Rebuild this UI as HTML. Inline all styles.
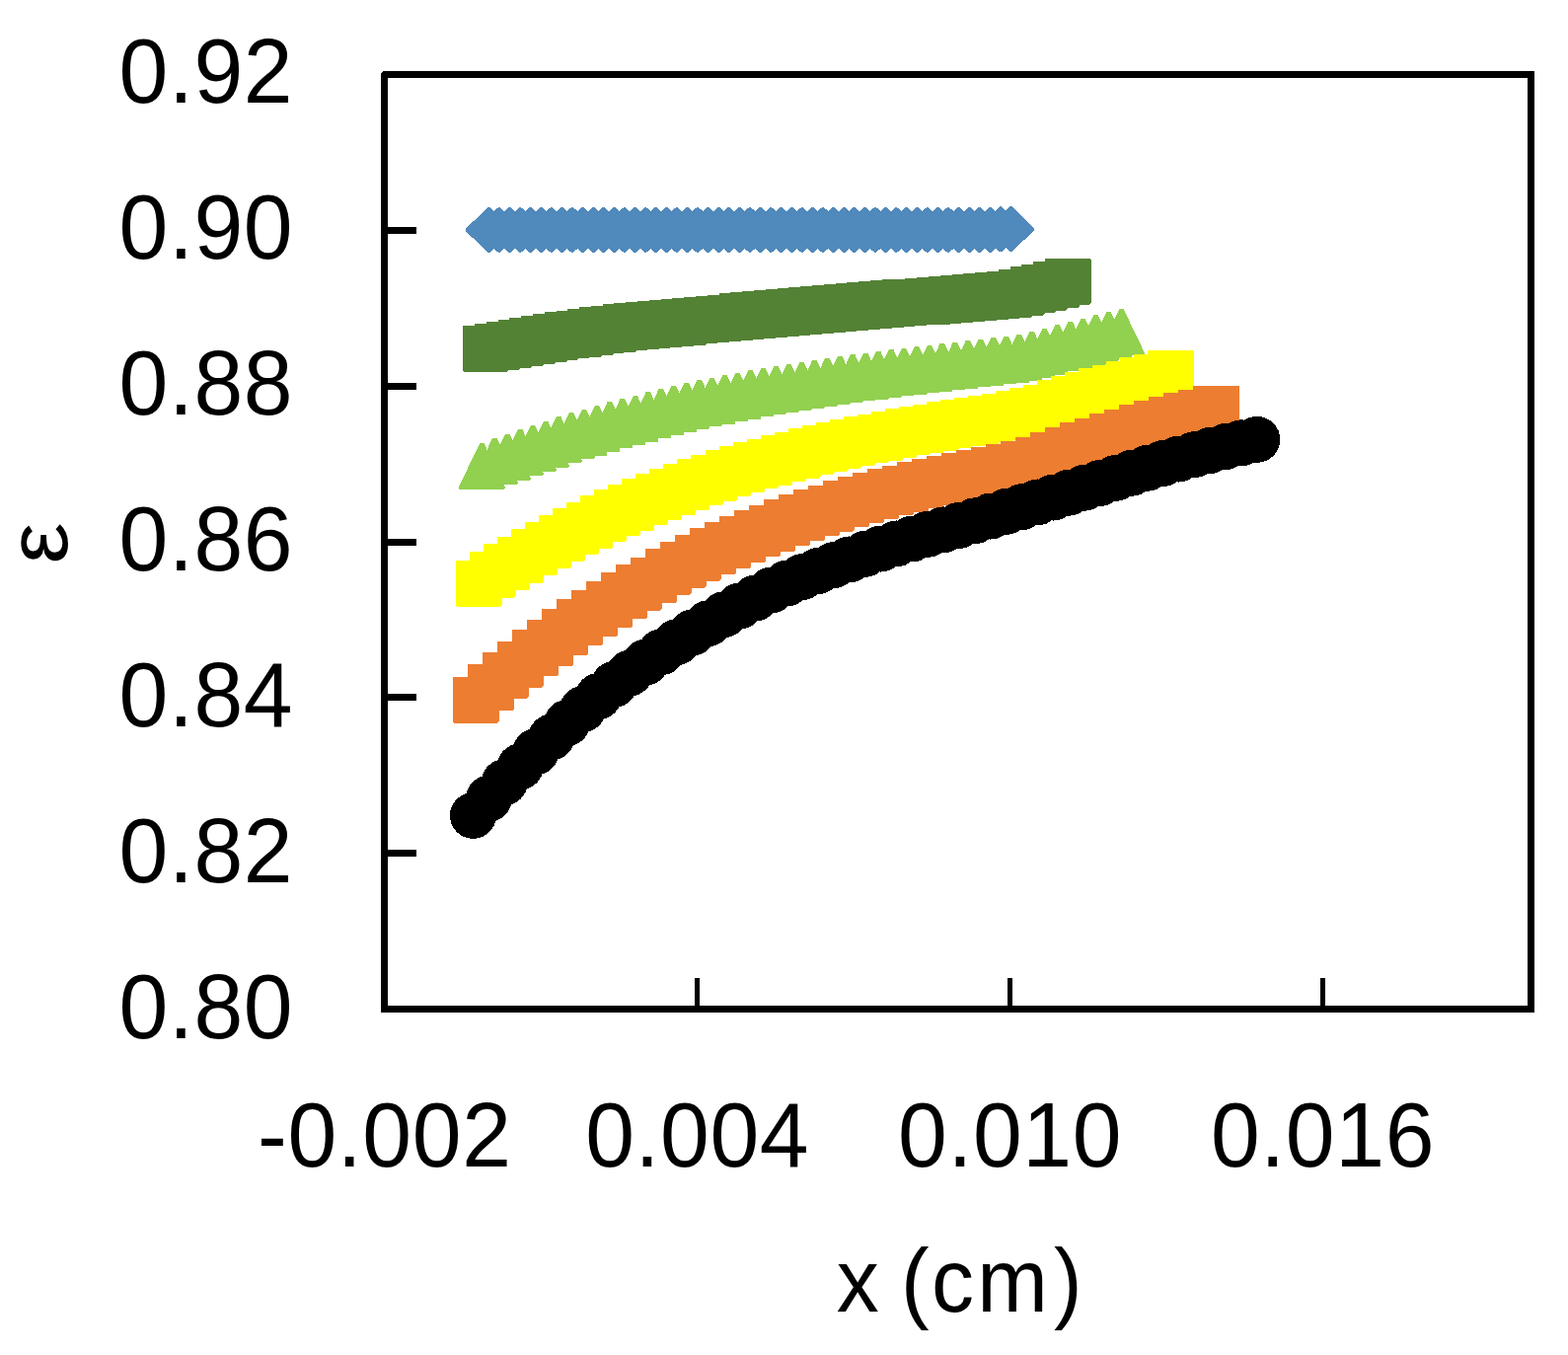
<!DOCTYPE html>
<html lang="en">
<head>
<meta charset="utf-8">
<title>Porosity profile chart</title>
<style>
html,body{margin:0;padding:0;background:#fff;}
body{width:1589px;height:1373px;overflow:hidden;}
svg{display:block;}
.mk path{stroke-linejoin:round;shape-rendering:crispEdges;}
.s1{fill:#5089BB;stroke:#5089BB;stroke-width:5.2;}
.s2{fill:#548235;}
.s3{fill:#92D050;}
.s4{fill:#FFFF00;}
.s5{fill:#ED7D31;}
.s6{fill:#000;stroke:#000;stroke-width:5.2;}
.fr{fill:none;stroke:#000;stroke-width:7;shape-rendering:crispEdges;}
.tk{fill:#000;shape-rendering:crispEdges;}
.t{font-family:"Liberation Sans",sans-serif;font-size:91.8px;fill:#000;}
.d{letter-spacing:0.65px;}
</style>
</head>
<body>
<svg width="1589" height="1373" viewBox="0 0 1589 1373">
<rect x="0" y="0" width="1589" height="1373" fill="#fff"/>
<g class="mk">
<path class="s1" d="M474.5 233L495.4 212.7L516.2 233L495.4 253.3ZM485.1 233L505.9 212.7L526.8 233L505.9 253.3ZM495.7 233L516.5 212.7L537.4 233L516.5 253.3ZM506.3 233L527.1 212.7L548 233L527.1 253.3ZM516.8 233L537.7 212.7L558.5 233L537.7 253.3ZM527.4 233L548.3 212.7L569.1 233L548.3 253.3ZM538 233L558.9 212.7L579.7 233L558.9 253.3ZM548.6 233L569.4 212.7L590.3 233L569.4 253.3ZM559.2 233L580 212.7L600.9 233L580 253.3ZM569.8 233L590.6 212.7L611.5 233L590.6 253.3ZM580.3 233L601.2 212.7L622 233L601.2 253.3ZM590.9 233L611.8 212.7L632.6 233L611.8 253.3ZM601.5 233L622.4 212.7L643.2 233L622.4 253.3ZM612.1 233L632.9 212.7L653.8 233L632.9 253.3ZM622.7 233L643.5 212.7L664.4 233L643.5 253.3ZM633.3 233L654.1 212.7L675 233L654.1 253.3ZM643.8 233L664.7 212.7L685.5 233L664.7 253.3ZM654.4 233L675.3 212.7L696.1 233L675.3 253.3ZM665 233L685.9 212.7L706.7 233L685.9 253.3ZM675.6 233L696.4 212.7L717.3 233L696.4 253.3ZM686.2 233L707 212.7L727.9 233L707 253.3ZM696.8 233L717.6 212.7L738.5 233L717.6 253.3ZM707.3 233L728.2 212.7L749 233L728.2 253.3ZM717.9 233L738.8 212.7L759.6 233L738.8 253.3ZM728.5 233L749.4 212.7L770.2 233L749.4 253.3ZM739.1 233L760 212.7L780.8 233L760 253.3ZM749.7 233L770.5 212.7L791.4 233L770.5 253.3ZM760.3 233L781.1 212.7L802 233L781.1 253.3ZM770.9 233L791.7 212.7L812.6 233L791.7 253.3ZM781.4 233L802.3 212.7L823.1 233L802.3 253.3ZM792 233L812.9 212.7L833.7 233L812.9 253.3ZM802.6 233L823.5 212.7L844.3 233L823.5 253.3ZM813.2 233L834 212.7L854.9 233L834 253.3ZM823.8 233L844.6 212.7L865.5 233L844.6 253.3ZM834.4 233L855.2 212.7L876.1 233L855.2 253.3ZM844.9 233L865.8 212.7L886.6 233L865.8 253.3ZM855.5 233L876.4 212.7L897.2 233L876.4 253.3ZM866.1 233L887 212.7L907.8 233L887 253.3ZM876.7 233L897.5 212.7L918.4 233L897.5 253.3ZM887.3 233L908.1 212.7L929 233L908.1 253.3ZM897.9 233L918.7 212.7L939.6 233L918.7 253.3ZM908.4 233L929.3 212.7L950.1 233L929.3 253.3ZM919 233L939.9 212.7L960.7 233L939.9 253.3ZM929.6 233L950.5 212.7L971.3 233L950.5 253.3ZM940.2 233L961 212.7L981.9 233L961 253.3ZM950.8 233L971.6 212.7L992.5 233L971.6 253.3ZM961.4 233L982.2 212.7L1003.1 233L982.2 253.3ZM971.9 233L992.8 212.7L1013.6 233L992.8 253.3ZM982.5 233L1003.4 212.7L1024.2 233L1003.4 253.3ZM993.1 232.2L1014 211.9L1034.8 232.2L1014 252.5ZM1003.7 232.2L1024.5 211.9L1045.4 232.2L1024.5 252.5Z"/>
<path class="s2" d="M469.1 330L515 330L516 331L516 375L514.3 376.7L470.1 376.7L469.1 375.7ZM480.9 328L526.8 328L527.8 329L527.8 373L526.1 374.7L481.9 374.7L480.9 373.7ZM492.7 326.1L538.6 326.1L539.6 327.1L539.6 371.1L537.9 372.8L493.7 372.8L492.7 371.8ZM504.5 323.9L550.4 323.9L551.4 324.9L551.4 368.9L549.7 370.6L505.5 370.6L504.5 369.6ZM516.3 322.1L562.2 322.1L563.2 323.1L563.2 367.1L561.5 368.8L517.3 368.8L516.3 367.8ZM528.1 320.2L574 320.2L575 321.2L575 365.2L573.3 366.9L529.1 366.9L528.1 365.9ZM539.9 318L585.8 318L586.8 319L586.8 363L585.1 364.7L540.9 364.7L539.9 363.7ZM551.7 316L597.6 316L598.6 317L598.6 361L596.9 362.7L552.7 362.7L551.7 361.7ZM563.5 315.1L609.4 315.1L610.4 316.1L610.4 360.1L608.7 361.8L564.5 361.8L563.5 360.8ZM575.3 313L621.2 313L622.2 314L622.2 358L620.5 359.7L576.3 359.7L575.3 358.7ZM587.1 311L633 311L634 312L634 356L632.3 357.7L588.1 357.7L587.1 356.7ZM598.9 310.1L644.8 310.1L645.8 311.1L645.8 355.1L644.1 356.8L599.9 356.8L598.9 355.8ZM610.7 307.9L656.6 307.9L657.6 308.9L657.6 352.9L655.9 354.6L611.7 354.6L610.7 353.6ZM622.4 306.9L668.3 306.9L669.3 307.9L669.3 351.9L667.6 353.6L623.4 353.6L622.4 352.6ZM634.2 305.9L680.1 305.9L681.1 306.9L681.1 350.9L679.4 352.6L635.2 352.6L634.2 351.6ZM646 304.9L691.9 304.9L692.9 305.9L692.9 349.9L691.2 351.6L647 351.6L646 350.6ZM657.8 303.8L703.7 303.8L704.7 304.8L704.7 348.8L703 350.5L658.8 350.5L657.8 349.5ZM669.6 302.8L715.5 302.8L716.5 303.8L716.5 347.8L714.8 349.5L670.6 349.5L669.6 348.5ZM681.4 301.7L727.3 301.7L728.3 302.7L728.3 346.7L726.6 348.4L682.4 348.4L681.4 347.4ZM693.2 300.7L739.1 300.7L740.1 301.7L740.1 345.7L738.4 347.4L694.2 347.4L693.2 346.4ZM705 299.6L750.9 299.6L751.9 300.6L751.9 344.6L750.2 346.3L706 346.3L705 345.3ZM716.8 298.5L762.7 298.5L763.7 299.5L763.7 343.5L762 345.2L717.8 345.2L716.8 344.2ZM728.6 297.4L774.5 297.4L775.5 298.4L775.5 342.4L773.8 344.1L729.6 344.1L728.6 343.1ZM740.4 296.3L786.3 296.3L787.3 297.3L787.3 341.3L785.6 343L741.4 343L740.4 342ZM752.2 295.3L798.1 295.3L799.1 296.3L799.1 340.3L797.4 342L753.2 342L752.2 341ZM764 294.2L809.9 294.2L810.9 295.2L810.9 339.2L809.2 340.9L765 340.9L764 339.9ZM775.8 293.1L821.7 293.1L822.7 294.1L822.7 338.1L821 339.8L776.8 339.8L775.8 338.8ZM787.6 292.1L833.5 292.1L834.5 293.1L834.5 337.1L832.8 338.8L788.6 338.8L787.6 337.8ZM799.4 291L845.3 291L846.3 292L846.3 336L844.6 337.7L800.4 337.7L799.4 336.7ZM811.2 290L857.1 290L858.1 291L858.1 335L856.4 336.7L812.2 336.7L811.2 335.7ZM823 289L868.9 289L869.9 290L869.9 334L868.2 335.7L824 335.7L823 334.7ZM834.8 288L880.7 288L881.7 289L881.7 333L880 334.7L835.8 334.7L834.8 333.7ZM846.6 287.1L892.5 287.1L893.5 288.1L893.5 332.1L891.8 333.8L847.6 333.8L846.6 332.8ZM858.4 286.1L904.3 286.1L905.3 287.1L905.3 331.1L903.6 332.8L859.4 332.8L858.4 331.8ZM870.2 285L916.1 285L917.1 286L917.1 330L915.4 331.7L871.2 331.7L870.2 330.7ZM882 283.9L927.9 283.9L928.9 284.9L928.9 328.9L927.2 330.6L883 330.6L882 329.6ZM893.8 283.1L939.7 283.1L940.7 284.1L940.7 328.1L939 329.8L894.8 329.8L893.8 328.8ZM905.6 282.6L951.5 282.6L952.5 283.6L952.5 327.6L950.8 329.3L906.6 329.3L905.6 328.3ZM917.3 282.1L963.2 282.1L964.2 283.1L964.2 327.1L962.5 328.8L918.3 328.8L917.3 327.8ZM929.1 281L975 281L976 282L976 326L974.3 327.7L930.1 327.7L929.1 326.7ZM940.9 279.9L986.8 279.9L987.8 280.9L987.8 324.9L986.1 326.6L941.9 326.6L940.9 325.6ZM952.7 278.9L998.6 278.9L999.6 279.9L999.6 323.9L997.9 325.6L953.7 325.6L952.7 324.6ZM964.5 278L1010.4 278L1011.4 279L1011.4 323L1009.7 324.7L965.5 324.7L964.5 323.7ZM976.3 277L1022.2 277L1023.2 278L1023.2 322L1021.5 323.7L977.3 323.7L976.3 322.7ZM988.1 276L1034 276L1035 277L1035 321L1033.3 322.7L989.1 322.7L988.1 321.7ZM999.9 275L1045.8 275L1046.8 276L1046.8 320L1045.1 321.7L1000.9 321.7L999.9 320.7ZM1011.7 273L1057.6 273L1058.6 274L1058.6 318L1056.9 319.7L1012.7 319.7L1011.7 318.7ZM1023.5 270.1L1069.4 270.1L1070.4 271.1L1070.4 315.1L1068.7 316.8L1024.5 316.8L1023.5 315.8ZM1035.3 267.8L1081.2 267.8L1082.2 268.8L1082.2 312.8L1080.5 314.5L1036.3 314.5L1035.3 313.5ZM1047.1 265.2L1093 265.2L1094 266.2L1094 310.2L1092.3 311.9L1048.1 311.9L1047.1 310.9ZM1058.9 262L1104.8 262L1105.8 263L1105.8 307L1104.1 308.7L1059.9 308.7L1058.9 307.7Z"/>
<path class="s3" d="M486.1 449.3L490.5 449.3L511.8 493.6L511.8 495.2L510.8 496.2L465.9 496.2L464.9 495.2L464.9 493.6ZM499.1 444L503.5 444L524.7 488.3L524.7 489.9L523.7 490.9L478.8 490.9L477.8 489.9L477.8 488.3ZM512 439.9L516.4 439.9L537.7 484.2L537.7 485.8L536.7 486.8L491.8 486.8L490.8 485.8L490.8 484.2ZM525 435.1L529.4 435.1L550.6 479.4L550.6 481L549.6 482L504.7 482L503.7 481L503.7 479.4ZM537.9 431.1L542.3 431.1L563.6 475.4L563.6 477L562.6 478L517.7 478L516.7 477L516.7 475.4ZM550.9 427L555.3 427L576.6 471.3L576.6 472.9L575.6 473.9L530.7 473.9L529.7 472.9L529.7 471.3ZM563.9 422L568.3 422L589.5 466.3L589.5 467.9L588.5 468.9L543.6 468.9L542.6 467.9L542.6 466.3ZM576.8 418.1L581.2 418.1L602.5 462.4L602.5 464L601.5 465L556.6 465L555.6 464L555.6 462.4ZM589.8 414.9L594.2 414.9L615.4 459.2L615.4 460.8L614.4 461.8L569.5 461.8L568.5 460.8L568.5 459.2ZM602.8 410.9L607.2 410.9L628.4 455.2L628.4 456.8L627.4 457.8L582.5 457.8L581.5 456.8L581.5 455.2ZM615.7 407.1L620.1 407.1L641.4 451.4L641.4 453L640.4 454L595.5 454L594.5 453L594.5 451.4ZM628.7 404L633.1 404L654.3 448.3L654.3 449.9L653.3 450.9L608.4 450.9L607.4 449.9L607.4 448.3ZM641.6 401.4L646 401.4L667.3 445.7L667.3 447.3L666.3 448.3L621.4 448.3L620.4 447.3L620.4 445.7ZM654.6 397.3L659 397.3L680.3 441.6L680.3 443.2L679.3 444.2L634.4 444.2L633.4 443.2L633.4 441.6ZM667.6 394.2L672 394.2L693.2 438.5L693.2 440.1L692.2 441.1L647.3 441.1L646.3 440.1L646.3 438.5ZM680.5 391L684.9 391L706.2 435.3L706.2 436.9L705.2 437.9L660.3 437.9L659.3 436.9L659.3 435.3ZM693.5 388L697.9 388L719.1 432.3L719.1 433.9L718.1 434.9L673.2 434.9L672.2 433.9L672.2 432.3ZM706.5 385L710.9 385L732.1 429.3L732.1 430.9L731.1 431.9L686.2 431.9L685.2 430.9L685.2 429.3ZM719.4 383.1L723.8 383.1L745.1 427.4L745.1 429L744.1 430L699.2 430L698.2 429L698.2 427.4ZM732.4 380.1L736.8 380.1L758 424.4L758 426L757 427L712.1 427L711.1 426L711.1 424.4ZM745.3 378.1L749.7 378.1L771 422.4L771 424L770 425L725.1 425L724.1 424L724.1 422.4ZM758.3 375.3L762.7 375.3L784 419.6L784 421.2L783 422.2L738.1 422.2L737.1 421.2L737.1 419.6ZM771.3 373.1L775.7 373.1L796.9 417.4L796.9 419L795.9 420L751 420L750 419L750 417.4ZM784.2 371.1L788.6 371.1L809.9 415.4L809.9 417L808.9 418L764 418L763 417L763 415.4ZM797.2 369.2L801.6 369.2L822.8 413.5L822.8 415.1L821.8 416.1L776.9 416.1L775.9 415.1L775.9 413.5ZM810.2 367.1L814.6 367.1L835.8 411.4L835.8 413L834.8 414L789.9 414L788.9 413L788.9 411.4ZM823.1 365.2L827.5 365.2L848.8 409.5L848.8 411.1L847.8 412.1L802.9 412.1L801.9 411.1L801.9 409.5ZM836.1 363.1L840.5 363.1L861.7 407.4L861.7 409L860.7 410L815.8 410L814.8 409L814.8 407.4ZM849 361.1L853.4 361.1L874.7 405.4L874.7 407L873.7 408L828.8 408L827.8 407L827.8 405.4ZM862 359.2L866.4 359.2L887.6 403.5L887.6 405.1L886.6 406.1L841.7 406.1L840.7 405.1L840.7 403.5ZM875 358L879.4 358L900.6 402.3L900.6 403.9L899.6 404.9L854.7 404.9L853.7 403.9L853.7 402.3ZM887.9 356L892.3 356L913.6 400.3L913.6 401.9L912.6 402.9L867.7 402.9L866.7 401.9L866.7 400.3ZM900.9 354L905.3 354L926.5 398.3L926.5 399.9L925.5 400.9L880.6 400.9L879.6 399.9L879.6 398.3ZM913.8 353L918.2 353L939.5 397.3L939.5 398.9L938.5 399.9L893.6 399.9L892.6 398.9L892.6 397.3ZM926.8 351L931.2 351L952.5 395.3L952.5 396.9L951.5 397.9L906.6 397.9L905.6 396.9L905.6 395.3ZM939.8 350.1L944.2 350.1L965.4 394.4L965.4 396L964.4 397L919.5 397L918.5 396L918.5 394.4ZM952.7 348L957.1 348L978.4 392.3L978.4 393.9L977.4 394.9L932.5 394.9L931.5 393.9L931.5 392.3ZM965.7 347L970.1 347L991.3 391.3L991.3 392.9L990.3 393.9L945.4 393.9L944.4 392.9L944.4 391.3ZM978.7 345.1L983.1 345.1L1004.3 389.4L1004.3 391L1003.3 392L958.4 392L957.4 391L957.4 389.4ZM991.6 343.9L996 343.9L1017.3 388.2L1017.3 389.8L1016.3 390.8L971.4 390.8L970.4 389.8L970.4 388.2ZM1004.6 342L1009 342L1030.2 386.3L1030.2 387.9L1029.2 388.9L984.3 388.9L983.3 387.9L983.3 386.3ZM1017.5 341L1021.9 341L1043.2 385.3L1043.2 386.9L1042.2 387.9L997.3 387.9L996.3 386.9L996.3 385.3ZM1030.5 339L1034.9 339L1056.2 383.3L1056.2 384.9L1055.2 385.9L1010.3 385.9L1009.3 384.9L1009.3 383.3ZM1043.5 336.1L1047.9 336.1L1069.1 380.4L1069.1 382L1068.1 383L1023.2 383L1022.2 382L1022.2 380.4ZM1056.4 333.1L1060.8 333.1L1082.1 377.4L1082.1 379L1081.1 380L1036.2 380L1035.2 379L1035.2 377.4ZM1069.4 329.1L1073.8 329.1L1095 373.4L1095 375L1094 376L1049.1 376L1048.1 375L1048.1 373.4ZM1082.4 325.9L1086.8 325.9L1108 370.2L1108 371.8L1107 372.8L1062.1 372.8L1061.1 371.8L1061.1 370.2ZM1095.3 323L1099.7 323L1121 367.3L1121 368.9L1120 369.9L1075.1 369.9L1074.1 368.9L1074.1 367.3ZM1108.3 319L1112.7 319L1133.9 363.3L1133.9 364.9L1132.9 365.9L1088 365.9L1087 364.9L1087 363.3ZM1121.2 316.1L1125.6 316.1L1146.9 360.4L1146.9 362L1145.9 363L1101 363L1100 362L1100 360.4ZM1134.2 313.2L1138.6 313.2L1159.9 357.5L1159.9 359.1L1158.9 360.1L1114 360.1L1113 359.1L1113 357.5Z"/>
<path class="s4" d="M462.1 568.1L507.9 568.1L508.9 569.1L508.9 613.1L507.2 614.8L463.1 614.8L462.1 613.8ZM476.1 559L522 559L523 560L523 604L521.3 605.7L477.1 605.7L476.1 604.7ZM490.1 551.1L536 551.1L537 552.1L537 596.1L535.3 597.8L491.1 597.8L490.1 596.8ZM504.1 544.1L550 544.1L551 545.1L551 589.1L549.3 590.8L505.1 590.8L504.1 589.8ZM518.1 536.1L564 536.1L565 537.1L565 581.1L563.3 582.8L519.1 582.8L518.1 581.8ZM532.2 529.1L578.1 529.1L579.1 530.1L579.1 574.1L577.4 575.8L533.2 575.8L532.2 574.8ZM546.2 522.1L592.1 522.1L593.1 523.1L593.1 567.1L591.4 568.8L547.2 568.8L546.2 567.8ZM560.2 515.1L606.1 515.1L607.1 516.1L607.1 560.1L605.4 561.8L561.2 561.8L560.2 560.8ZM574.2 509.1L620.1 509.1L621.1 510.1L621.1 554.1L619.4 555.8L575.2 555.8L574.2 554.8ZM588.3 502.2L634.2 502.2L635.2 503.2L635.2 547.2L633.5 548.9L589.3 548.9L588.3 547.9ZM602.3 496.1L648.2 496.1L649.2 497.1L649.2 541.1L647.5 542.8L603.3 542.8L602.3 541.8ZM616.3 491L662.2 491L663.2 492L663.2 536L661.5 537.7L617.3 537.7L616.3 536.7ZM630.3 485L676.2 485L677.2 486L677.2 530L675.5 531.7L631.3 531.7L630.3 530.7ZM644.3 480.1L690.2 480.1L691.2 481.1L691.2 525.1L689.5 526.8L645.3 526.8L644.3 525.8ZM658.4 475.1L704.3 475.1L705.3 476.1L705.3 520.1L703.6 521.8L659.4 521.8L658.4 520.8ZM672.4 470.2L718.3 470.2L719.3 471.2L719.3 515.2L717.6 516.9L673.4 516.9L672.4 515.9ZM686.4 465.1L732.3 465.1L733.3 466.1L733.3 510.1L731.6 511.8L687.4 511.8L686.4 510.8ZM700.4 461.2L746.3 461.2L747.3 462.2L747.3 506.2L745.6 507.9L701.4 507.9L700.4 506.9ZM714.5 456.1L760.4 456.1L761.4 457.1L761.4 501.1L759.7 502.8L715.5 502.8L714.5 501.8ZM728.5 452.2L774.4 452.2L775.4 453.2L775.4 497.2L773.7 498.9L729.5 498.9L728.5 497.9ZM742.5 448.1L788.4 448.1L789.4 449.1L789.4 493.1L787.7 494.8L743.5 494.8L742.5 493.8ZM756.5 445.1L802.4 445.1L803.4 446.1L803.4 490.1L801.7 491.8L757.5 491.8L756.5 490.8ZM770.5 441.2L816.4 441.2L817.4 442.2L817.4 486.2L815.7 487.9L771.5 487.9L770.5 486.9ZM784.6 438.3L830.5 438.3L831.5 439.3L831.5 483.3L829.8 485L785.6 485L784.6 484ZM798.6 434.3L844.5 434.3L845.5 435.3L845.5 479.3L843.8 481L799.6 481L798.6 480ZM812.6 431.1L858.5 431.1L859.5 432.1L859.5 476.1L857.8 477.8L813.6 477.8L812.6 476.8ZM826.6 428.2L872.5 428.2L873.5 429.2L873.5 473.2L871.8 474.9L827.6 474.9L826.6 473.9ZM840.7 425.1L886.6 425.1L887.6 426.1L887.6 470.1L885.9 471.8L841.7 471.8L840.7 470.8ZM854.7 422.2L900.6 422.2L901.6 423.2L901.6 467.2L899.9 468.9L855.7 468.9L854.7 467.9ZM868.7 420L914.6 420L915.6 421L915.6 465L913.9 466.7L869.7 466.7L868.7 465.7ZM882.7 416.9L928.6 416.9L929.6 417.9L929.6 461.9L927.9 463.6L883.7 463.6L882.7 462.6ZM896.7 414L942.6 414L943.6 415L943.6 459L941.9 460.7L897.7 460.7L896.7 459.7ZM910.8 411.9L956.7 411.9L957.7 412.9L957.7 456.9L956 458.6L911.8 458.6L910.8 457.6ZM924.8 410L970.7 410L971.7 411L971.7 455L970 456.7L925.8 456.7L924.8 455.7ZM938.8 407.1L984.7 407.1L985.7 408.1L985.7 452.1L984 453.8L939.8 453.8L938.8 452.8ZM952.8 404.9L998.7 404.9L999.7 405.9L999.7 449.9L998 451.6L953.8 451.6L952.8 450.6ZM966.9 403L1012.8 403L1013.8 404L1013.8 448L1012.1 449.7L967.9 449.7L966.9 448.7ZM980.9 401L1026.8 401L1027.8 402L1027.8 446L1026.1 447.7L981.9 447.7L980.9 446.7ZM994.9 399L1040.8 399L1041.8 400L1041.8 444L1040.1 445.7L995.9 445.7L994.9 444.7ZM1008.9 396.1L1054.8 396.1L1055.8 397.1L1055.8 441.1L1054.1 442.8L1009.9 442.8L1008.9 441.8ZM1022.9 393L1068.8 393L1069.8 394L1069.8 438L1068.1 439.7L1023.9 439.7L1022.9 438.7ZM1037 390.1L1082.9 390.1L1083.9 391.1L1083.9 435.1L1082.2 436.8L1038 436.8L1037 435.8ZM1051 385L1096.9 385L1097.9 386L1097.9 430L1096.2 431.7L1052 431.7L1051 430.7ZM1065 381L1110.9 381L1111.9 382L1111.9 426L1110.2 427.7L1066 427.7L1065 426.7ZM1079 377L1124.9 377L1125.9 378L1125.9 422L1124.2 423.7L1080 423.7L1079 422.7ZM1093.1 373L1139 373L1140 374L1140 418L1138.3 419.7L1094.1 419.7L1093.1 418.7ZM1107.1 370L1153 370L1154 371L1154 415L1152.3 416.7L1108.1 416.7L1107.1 415.7ZM1121.1 366.1L1167 366.1L1168 367.1L1168 411.1L1166.3 412.8L1122.1 412.8L1121.1 411.8ZM1135.1 362.1L1181 362.1L1182 363.1L1182 407.1L1180.3 408.8L1136.1 408.8L1135.1 407.8ZM1149.1 359.2L1195 359.2L1196 360.2L1196 404.2L1194.3 405.9L1150.1 405.9L1149.1 404.9ZM1163.2 355.1L1209.1 355.1L1210.1 356.1L1210.1 400.1L1208.4 401.8L1164.2 401.8L1163.2 400.8Z"/>
<path class="s5" d="M459 686L504.9 686L505.9 687L505.9 731L504.2 732.7L460 732.7L459 731.7ZM474 673.2L519.9 673.2L520.9 674.2L520.9 718.2L519.2 719.9L475 719.9L474 718.9ZM489 661.1L534.9 661.1L535.9 662.1L535.9 706.1L534.2 707.8L490 707.8L489 706.8ZM504 650.1L549.9 650.1L550.9 651.1L550.9 695.1L549.2 696.8L505 696.8L504 695.8ZM519 638.3L564.9 638.3L565.9 639.3L565.9 683.3L564.2 685L520 685L519 684ZM534 628.3L579.9 628.3L580.9 629.3L580.9 673.3L579.2 675L535 675L534 674ZM549 617.2L594.9 617.2L595.9 618.2L595.9 662.2L594.2 663.9L550 663.9L549 662.9ZM564 607.3L609.9 607.3L610.9 608.3L610.9 652.3L609.2 654L565 654L564 653ZM579 598.2L624.9 598.2L625.9 599.2L625.9 643.2L624.2 644.9L580 644.9L579 643.9ZM594 589.2L639.9 589.2L640.9 590.2L640.9 634.2L639.2 635.9L595 635.9L594 634.9ZM609 580.2L654.9 580.2L655.9 581.2L655.9 625.2L654.2 626.9L610 626.9L609 625.9ZM624 572.1L669.9 572.1L670.9 573.1L670.9 617.1L669.2 618.8L625 618.8L624 617.8ZM639 564.5L684.9 564.5L685.9 565.5L685.9 609.5L684.2 611.2L640 611.2L639 610.2ZM654 556L699.9 556L700.9 557L700.9 601L699.2 602.7L655 602.7L654 601.7ZM669 549.1L714.9 549.1L715.9 550.1L715.9 594.1L714.2 595.8L670 595.8L669 594.8ZM684.1 542L730 542L731 543L731 587L729.3 588.7L685.1 588.7L684.1 587.7ZM699.1 535.1L745 535.1L746 536.1L746 580.1L744.3 581.8L700.1 581.8L699.1 580.8ZM714.1 529.1L760 529.1L761 530.1L761 574.1L759.3 575.8L715.1 575.8L714.1 574.8ZM729.1 523.1L775 523.1L776 524.1L776 568.1L774.3 569.8L730.1 569.8L729.1 568.8ZM744.1 517.1L790 517.1L791 518.1L791 562.1L789.3 563.8L745.1 563.8L744.1 562.8ZM759.1 512.1L805 512.1L806 513.1L806 557.1L804.3 558.8L760.1 558.8L759.1 557.8ZM774.1 506.1L820 506.1L821 507.1L821 551.1L819.3 552.8L775.1 552.8L774.1 551.8ZM789.1 501.1L835 501.1L836 502.1L836 546.1L834.3 547.8L790.1 547.8L789.1 546.8ZM804.1 496.2L850 496.2L851 497.2L851 541.2L849.3 542.9L805.1 542.9L804.1 541.9ZM819.1 492L865 492L866 493L866 537L864.3 538.7L820.1 538.7L819.1 537.7ZM834.1 487.2L880 487.2L881 488.2L881 532.2L879.3 533.9L835.1 533.9L834.1 532.9ZM849.1 483.2L895 483.2L896 484.2L896 528.2L894.3 529.9L850.1 529.9L849.1 528.9ZM864.1 479.1L910 479.1L911 480.1L911 524.1L909.3 525.8L865.1 525.8L864.1 524.8ZM879.1 475.2L925 475.2L926 476.2L926 520.2L924.3 521.9L880.1 521.9L879.1 520.9ZM894.1 472.1L940 472.1L941 473.1L941 517.1L939.3 518.8L895.1 518.8L894.1 517.8ZM909.1 468.2L955 468.2L956 469.2L956 513.2L954.3 514.9L910.1 514.9L909.1 513.9ZM924.1 465L970 465L971 466L971 510L969.3 511.7L925.1 511.7L924.1 510.7ZM939.1 462L985 462L986 463L986 507L984.3 508.7L940.1 508.7L939.1 507.7ZM954.1 459.1L1000 459.1L1001 460.1L1001 504.1L999.3 505.8L955.1 505.8L954.1 504.8ZM969.1 456.1L1015 456.1L1016 457.1L1016 501.1L1014.3 502.8L970.1 502.8L969.1 501.8ZM984.1 453.1L1030 453.1L1031 454.1L1031 498.1L1029.3 499.8L985.1 499.8L984.1 498.8ZM999.1 450.2L1045 450.2L1046 451.2L1046 495.2L1044.3 496.9L1000.1 496.9L999.1 495.9ZM1014.1 447.2L1060 447.2L1061 448.2L1061 492.2L1059.3 493.9L1015.1 493.9L1014.1 492.9ZM1029.1 443L1075 443L1076 444L1076 488L1074.3 489.7L1030.1 489.7L1029.1 488.7ZM1044.1 438.2L1090 438.2L1091 439.2L1091 483.2L1089.3 484.9L1045.1 484.9L1044.1 483.9ZM1059.1 433.2L1105 433.2L1106 434.2L1106 478.2L1104.3 479.9L1060.1 479.9L1059.1 478.9ZM1074.1 428.3L1120 428.3L1121 429.3L1121 473.3L1119.3 475L1075.1 475L1074.1 474ZM1089.1 424L1135 424L1136 425L1136 469L1134.3 470.7L1090.1 470.7L1089.1 469.7ZM1104.1 419.1L1150 419.1L1151 420.1L1151 464.1L1149.3 465.8L1105.1 465.8L1104.1 464.8ZM1119.1 415.1L1165 415.1L1166 416.1L1166 460.1L1164.3 461.8L1120.1 461.8L1119.1 460.8ZM1134.2 410.1L1180.1 410.1L1181.1 411.1L1181.1 455.1L1179.4 456.8L1135.2 456.8L1134.2 455.8ZM1149.2 406.1L1195.1 406.1L1196.1 407.1L1196.1 451.1L1194.4 452.8L1150.2 452.8L1149.2 451.8ZM1164.2 402.2L1210.1 402.2L1211.1 403.2L1211.1 447.2L1209.4 448.9L1165.2 448.9L1164.2 447.9ZM1179.2 398.2L1225.1 398.2L1226.1 399.2L1226.1 443.2L1224.4 444.9L1180.2 444.9L1179.2 443.9ZM1194.2 395.1L1240.1 395.1L1241.1 396.1L1241.1 440.1L1239.4 441.8L1195.2 441.8L1194.2 440.8ZM1209.2 391.1L1255.1 391.1L1256.1 392.1L1256.1 436.1L1254.4 437.8L1210.2 437.8L1209.2 436.8Z"/>
<path class="s6" d="M458.6 826.4a20.8 20.8 0 1 0 41.7 0a20.8 20.8 0 1 0 -41.7 0ZM474.5 809.2a20.8 20.8 0 1 0 41.7 0a20.8 20.8 0 1 0 -41.7 0ZM490.4 792.7a20.8 20.8 0 1 0 41.7 0a20.8 20.8 0 1 0 -41.7 0ZM506.3 776.9a20.8 20.8 0 1 0 41.7 0a20.8 20.8 0 1 0 -41.7 0ZM522.1 761.7a20.8 20.8 0 1 0 41.7 0a20.8 20.8 0 1 0 -41.7 0ZM538 747a20.8 20.8 0 1 0 41.7 0a20.8 20.8 0 1 0 -41.7 0ZM553.9 732.5a20.8 20.8 0 1 0 41.7 0a20.8 20.8 0 1 0 -41.7 0ZM569.8 718.6a20.8 20.8 0 1 0 41.7 0a20.8 20.8 0 1 0 -41.7 0ZM585.7 705.5a20.8 20.8 0 1 0 41.7 0a20.8 20.8 0 1 0 -41.7 0ZM601.6 693.4a20.8 20.8 0 1 0 41.7 0a20.8 20.8 0 1 0 -41.7 0ZM617.4 682a20.8 20.8 0 1 0 41.7 0a20.8 20.8 0 1 0 -41.7 0ZM633.3 671.2a20.8 20.8 0 1 0 41.7 0a20.8 20.8 0 1 0 -41.7 0ZM649.2 660.7a20.8 20.8 0 1 0 41.7 0a20.8 20.8 0 1 0 -41.7 0ZM665.1 650.6a20.8 20.8 0 1 0 41.7 0a20.8 20.8 0 1 0 -41.7 0ZM681 640.9a20.8 20.8 0 1 0 41.7 0a20.8 20.8 0 1 0 -41.7 0ZM696.9 631.7a20.8 20.8 0 1 0 41.7 0a20.8 20.8 0 1 0 -41.7 0ZM712.8 622.7a20.8 20.8 0 1 0 41.7 0a20.8 20.8 0 1 0 -41.7 0ZM728.6 614.1a20.8 20.8 0 1 0 41.7 0a20.8 20.8 0 1 0 -41.7 0ZM744.5 606a20.8 20.8 0 1 0 41.7 0a20.8 20.8 0 1 0 -41.7 0ZM760.4 598.2a20.8 20.8 0 1 0 41.7 0a20.8 20.8 0 1 0 -41.7 0ZM776.3 591.1a20.8 20.8 0 1 0 41.7 0a20.8 20.8 0 1 0 -41.7 0ZM792.2 584.6a20.8 20.8 0 1 0 41.7 0a20.8 20.8 0 1 0 -41.7 0ZM808.1 578.5a20.8 20.8 0 1 0 41.7 0a20.8 20.8 0 1 0 -41.7 0ZM824 572.6a20.8 20.8 0 1 0 41.7 0a20.8 20.8 0 1 0 -41.7 0ZM839.8 566.9a20.8 20.8 0 1 0 41.7 0a20.8 20.8 0 1 0 -41.7 0ZM855.7 561.4a20.8 20.8 0 1 0 41.7 0a20.8 20.8 0 1 0 -41.7 0ZM871.6 556.1a20.8 20.8 0 1 0 41.7 0a20.8 20.8 0 1 0 -41.7 0ZM887.5 550.9a20.8 20.8 0 1 0 41.7 0a20.8 20.8 0 1 0 -41.7 0ZM903.4 546a20.8 20.8 0 1 0 41.7 0a20.8 20.8 0 1 0 -41.7 0ZM919.3 541.3a20.8 20.8 0 1 0 41.7 0a20.8 20.8 0 1 0 -41.7 0ZM935.1 536.9a20.8 20.8 0 1 0 41.7 0a20.8 20.8 0 1 0 -41.7 0ZM951 532.4a20.8 20.8 0 1 0 41.7 0a20.8 20.8 0 1 0 -41.7 0ZM966.9 527.8a20.8 20.8 0 1 0 41.7 0a20.8 20.8 0 1 0 -41.7 0ZM982.8 523.1a20.8 20.8 0 1 0 41.7 0a20.8 20.8 0 1 0 -41.7 0ZM998.7 518.4a20.8 20.8 0 1 0 41.7 0a20.8 20.8 0 1 0 -41.7 0ZM1014.6 513.7a20.8 20.8 0 1 0 41.7 0a20.8 20.8 0 1 0 -41.7 0ZM1030.5 508.9a20.8 20.8 0 1 0 41.7 0a20.8 20.8 0 1 0 -41.7 0ZM1046.3 504.1a20.8 20.8 0 1 0 41.7 0a20.8 20.8 0 1 0 -41.7 0ZM1062.2 499.2a20.8 20.8 0 1 0 41.7 0a20.8 20.8 0 1 0 -41.7 0ZM1078.1 494.3a20.8 20.8 0 1 0 41.7 0a20.8 20.8 0 1 0 -41.7 0ZM1094 489.4a20.8 20.8 0 1 0 41.7 0a20.8 20.8 0 1 0 -41.7 0ZM1109.9 484.4a20.8 20.8 0 1 0 41.7 0a20.8 20.8 0 1 0 -41.7 0ZM1125.8 479.3a20.8 20.8 0 1 0 41.7 0a20.8 20.8 0 1 0 -41.7 0ZM1141.7 474.3a20.8 20.8 0 1 0 41.7 0a20.8 20.8 0 1 0 -41.7 0ZM1157.5 469.6a20.8 20.8 0 1 0 41.7 0a20.8 20.8 0 1 0 -41.7 0ZM1173.4 465.1a20.8 20.8 0 1 0 41.7 0a20.8 20.8 0 1 0 -41.7 0ZM1189.3 460.7a20.8 20.8 0 1 0 41.7 0a20.8 20.8 0 1 0 -41.7 0ZM1205.2 456.5a20.8 20.8 0 1 0 41.7 0a20.8 20.8 0 1 0 -41.7 0ZM1221.1 452.5a20.8 20.8 0 1 0 41.7 0a20.8 20.8 0 1 0 -41.7 0ZM1237 448.8a20.8 20.8 0 1 0 41.7 0a20.8 20.8 0 1 0 -41.7 0ZM1252.9 445.4a20.8 20.8 0 1 0 41.7 0a20.8 20.8 0 1 0 -41.7 0Z"/>
</g>
<g>
<rect class="fr" x="389.5" y="75.5" width="1162.0" height="947.0"/>
<path d="M385 71H389.3L385 75.3Z" fill="#fff" shape-rendering="crispEdges"/>
<rect class="tk" x="390" y="230" width="32" height="7"/>
<rect class="tk" x="390" y="388" width="32" height="7"/>
<rect class="tk" x="390" y="546" width="32" height="7"/>
<rect class="tk" x="390" y="703" width="32" height="7"/>
<rect class="tk" x="390" y="861" width="32" height="7"/>
<rect class="tk" x="704" y="991" width="5" height="30"/>
<rect class="tk" x="1021" y="991" width="5" height="30"/>
<rect class="tk" x="1338" y="991" width="5" height="30"/>
</g>
<g>
<text class="t d" transform="translate(297.2 103.7) scale(0.975 1)" text-anchor="end">0.92</text>
<text class="t d" transform="translate(297.2 261.8) scale(0.975 1)" text-anchor="end">0.90</text>
<text class="t d" transform="translate(297.2 419.9) scale(0.975 1)" text-anchor="end">0.88</text>
<text class="t d" transform="translate(297.2 578) scale(0.975 1)" text-anchor="end">0.86</text>
<text class="t d" transform="translate(297.2 736) scale(0.975 1)" text-anchor="end">0.84</text>
<text class="t d" transform="translate(297.2 894.1) scale(0.975 1)" text-anchor="end">0.82</text>
<text class="t d" transform="translate(297.2 1052.2) scale(0.975 1)" text-anchor="end">0.80</text>
<text class="t d" transform="translate(389.8 1182) scale(0.975 1)" text-anchor="middle">-0.002</text>
<text class="t d" transform="translate(706.7 1182) scale(0.975 1)" text-anchor="middle">0.004</text>
<text class="t d" transform="translate(1023.6 1182) scale(0.975 1)" text-anchor="middle">0.010</text>
<text class="t d" transform="translate(1340.5 1182) scale(0.975 1)" text-anchor="middle">0.016</text>
<text class="t" style="font-size:90.5px" transform="scale(0.95 1)" x="892.4 937 961 993.6 1042.3 1124.1" y="1328.8">x (cm)</text>
<text class="t" style="font-size:88px" transform="translate(67.8 550.6) rotate(-90) scale(1.07 1)" text-anchor="middle">ε</text>
</g>
</svg>
</body>
</html>
